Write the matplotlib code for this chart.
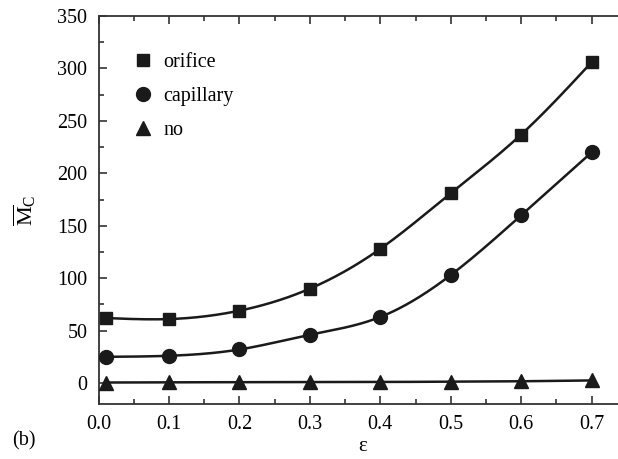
import numpy as np
import matplotlib
matplotlib.use("Agg")
import matplotlib.pyplot as plt
from matplotlib.lines import Line2D
from matplotlib.ticker import MultipleLocator

plt.rcParams['font.family'] = ['Liberation Serif', 'DejaVu Serif']
plt.rcParams['mathtext.fontset'] = 'custom'
plt.rcParams['mathtext.rm'] = 'Liberation Serif'
plt.rcParams['mathtext.it'] = 'Liberation Serif:italic'

eps = [0.01, 0.1, 0.2, 0.3, 0.4, 0.5, 0.6, 0.7]
orifice = [62, 61, 69, 90, 128, 181, 237, 306]
capillary = [25, 26, 32, 46, 63, 103, 160, 220]
no_damp = [0.5, 0.7, 0.8, 0.9, 1.0, 1.3, 1.7, 2.5]
labels = ['orifice', 'capillary', 'no']
markers = ['s', 'o', '^']


def natural_spline(x, y, n=300):
    x = np.asarray(x, float); y = np.asarray(y, float)
    m = len(x); h = np.diff(x)
    A = np.zeros((m, m)); b = np.zeros(m)
    A[0, 0] = A[-1, -1] = 1
    for i in range(1, m - 1):
        A[i, i - 1] = h[i - 1]; A[i, i] = 2 * (h[i - 1] + h[i]); A[i, i + 1] = h[i]
        b[i] = 3 * ((y[i + 1] - y[i]) / h[i] - (y[i] - y[i - 1]) / h[i - 1])
    c = np.linalg.solve(A, b)
    bb = (y[1:] - y[:-1]) / h - h * (2 * c[:-1] + c[1:]) / 3
    d = (c[1:] - c[:-1]) / (3 * h)
    xs = np.linspace(x[0], x[-1], n)
    idx = np.clip(np.searchsorted(x, xs) - 1, 0, m - 2)
    dx = xs - x[idx]
    ys = y[idx] + bb[idx] * dx + c[idx] * dx ** 2 + d[idx] * dx ** 3
    return xs, ys


fig = plt.figure(figsize=(6.18, 4.59), dpi=100)
ax = fig.add_axes([0.1594, 0.1198, 0.855, 0.8453])

col = '#1a1a1a'
handles = []
for ys, lab, mk in zip([orifice, capillary, no_damp], labels, markers):
    xs, yy = natural_spline(eps, ys)
    ax.plot(xs, yy, color=col, lw=1.8, zorder=2)
    ms = {'s': 9, 'o': 10, '^': 10.5}[mk]
    ax.plot(eps, ys, linestyle='none', marker=mk, ms=ms, color=col, zorder=3)
    handles.append(Line2D([], [], linestyle='none', marker=mk, ms=ms, color=col, label=lab))

ax.set_xlim(0, 0.75)
ax.set_ylim(-20, 350)
ax.xaxis.set_major_locator(MultipleLocator(0.1))
ax.xaxis.set_minor_locator(MultipleLocator(0.05))
ax.yaxis.set_major_locator(MultipleLocator(50))
ax.yaxis.set_minor_locator(MultipleLocator(25))
ax.set_xticks([0, 0.1, 0.2, 0.3, 0.4, 0.5, 0.6, 0.7])
ax.set_xticklabels(['0.0', '0.1', '0.2', '0.3', '0.4', '0.5', '0.6', '0.7'])
ax.tick_params(which='both', direction='in', top=True, right=False, labelsize=14.5, color='#333333')
ax.tick_params(which='major', length=6, width=1.2, pad=8)
ax.tick_params(which='minor', length=3.5, width=1.2)
for s in ax.spines.values():
    s.set_linewidth(1.3)
    s.set_color('#333333')
ax.spines['right'].set_visible(False)

ax.set_xlabel('ε', fontsize=15, labelpad=2)
ax.set_ylabel(r'$\overline{\mathrm{M}}_{\mathrm{C}}$', fontsize=16, labelpad=14)

fig.text(0.019, 0.03, '(b)', fontsize=14.5)

leg = ax.legend(handles=handles, loc='upper left', bbox_to_anchor=(0.065, 0.904),
                frameon=False, fontsize=14.5, handlelength=1.0, handletextpad=0.5,
                labelspacing=0.72, borderaxespad=0, borderpad=0)

fig.savefig('out.png', dpi=100)
